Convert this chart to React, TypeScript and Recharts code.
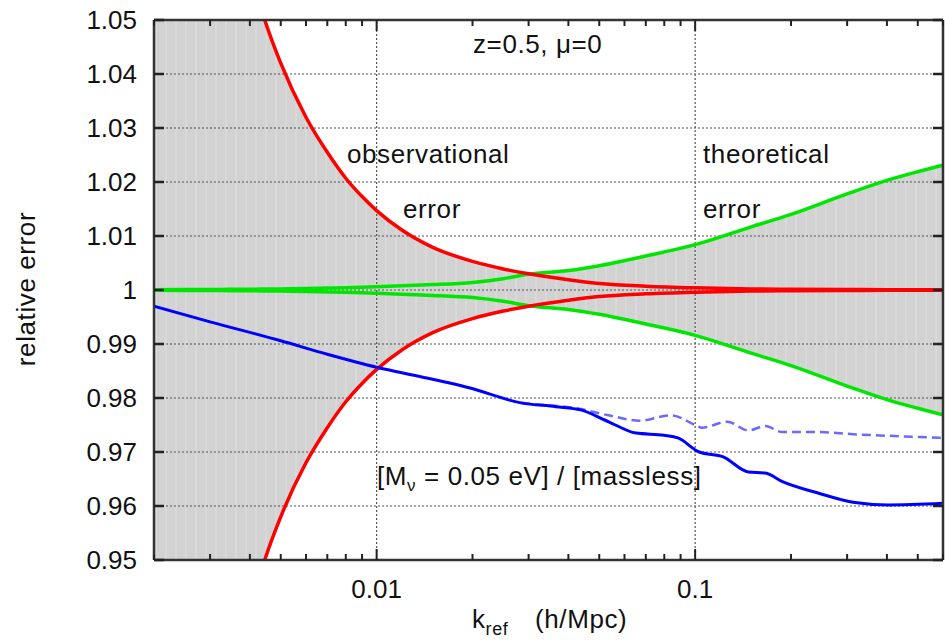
import React from 'react'
import { ComposedChart, Line, Area, XAxis, YAxis, ReferenceLine } from 'recharts'

// k grid for the error envelopes (h/Mpc)
const kGrid = [0.002, 0.0025, 0.003, 0.0035, 0.004, 0.0044, 0.005, 0.006, 0.007, 0.008, 0.009, 0.01, 0.012, 0.015, 0.02, 0.025, 0.03, 0.04, 0.05, 0.07, 0.1, 0.15, 0.2, 0.3, 0.4, 0.5, 0.6]
// observational error (half width of the red envelope)
const obsErr = [0.17, 0.12, 0.092, 0.074, 0.06, 0.051, 0.042, 0.032, 0.0255, 0.0207, 0.0173, 0.0147, 0.0111, 0.0079, 0.0053, 0.0039, 0.003, 0.0019, 0.0012, 0.0007, 0.0004, 0.0002, 0.00015, 0.0001, 0.00005, 0.00004, 0.00003]
// theoretical error (half width of the green envelope)
const theoErr = [0.00005, 0.00007, 0.0001, 0.00012, 0.00015, 0.00017, 0.0002, 0.00027, 0.00035, 0.00042, 0.0005, 0.0006, 0.0008, 0.001, 0.0014, 0.0021, 0.0029, 0.0036, 0.0045, 0.0063, 0.0084, 0.0117, 0.014, 0.0178, 0.0203, 0.0219, 0.0231]

// [M_nu = 0.05 eV] / [massless], solid
const ratioK = [0.002, 0.003, 0.005, 0.007, 0.01, 0.0117, 0.0195, 0.0284, 0.0365, 0.0437, 0.0535, 0.0652, 0.0798, 0.0883, 0.103, 0.1225, 0.147, 0.166, 0.188, 0.243, 0.313, 0.404, 0.6]
const ratioVal = [0.997, 0.9941, 0.9906, 0.9881, 0.9857, 0.9848, 0.9819, 0.9791, 0.9784, 0.9778, 0.9756, 0.9735, 0.9731, 0.9726, 0.97, 0.9691, 0.9663, 0.9661, 0.9645, 0.9624, 0.9607, 0.9602, 0.9605]
// dashed variant
const dashK = [0.0284, 0.0322, 0.0415, 0.0535, 0.067, 0.084, 0.1, 0.105, 0.126, 0.147, 0.166, 0.188, 0.243, 0.313, 0.404, 0.6]
const dashVal = [0.9791, 0.9788, 0.9782, 0.9768, 0.9758, 0.9768, 0.975, 0.9745, 0.9756, 0.974, 0.9748, 0.9737, 0.9737, 0.9733, 0.973, 0.9726]

const xTicks = [0.002, 0.003, 0.004, 0.005, 0.006, 0.007, 0.008, 0.009, 0.01, 0.02, 0.03, 0.04, 0.05, 0.06, 0.07, 0.08, 0.09, 0.1, 0.2, 0.3, 0.4, 0.5, 0.6]
const xMajor = [0.01, 0.1]
const xMajorLabels = ['0.01', '0.1']
const yTicks = [0.95, 0.96, 0.97, 0.98, 0.99, 1, 1.01, 1.02, 1.03, 1.04, 1.05]
const yLabels = ['0.95', '0.96', '0.97', '0.98', '0.99', '1', '1.01', '1.02', '1.03', '1.04', '1.05']
const yGrid = [0.96, 0.97, 0.98, 0.99, 1, 1.01, 1.02, 1.03, 1.04]

const W = 945
const H = 644
const M = { top: 20, right: 2, bottom: 0, left: 0 }
const PLOT_TOP = M.top
const PLOT_RIGHT = W - M.right
const FONT = '"Liberation Sans", Arial, Helvetica, sans-serif'
const TXT = '#111'
const TICK = '#222'

const envData = kGrid.map((k, i) => {
  const tot = Math.max(obsErr[i], theoErr[i])
  return {
    k,
    obsHi: 1 + obsErr[i],
    obsLo: 1 - obsErr[i],
    theoHi: 1 + theoErr[i],
    theoLo: 1 - theoErr[i],
    band: [1 - tot, 1 + tot],
  }
})
const ratioData = ratioK.map((k, i) => ({ k, v: ratioVal[i] }))
const dashData = dashK.map((k, i) => ({ k, v: dashVal[i] }))

// ticks point inwards, on both the bottom and top frame
const XTick = (props: any) => {
  const { x, y, payload } = props
  const idx = xMajor.indexOf(payload.value)
  const len = idx >= 0 ? 11 : 6
  return (
    <g>
      <line x1={x} x2={x} y1={y} y2={y - len} stroke={TICK} strokeWidth={2} />
      <line x1={x} x2={x} y1={PLOT_TOP} y2={PLOT_TOP + len} stroke={TICK} strokeWidth={2} />
      {idx >= 0 && (
        <text x={x} y={y + 38} textAnchor="middle" fontSize={26} fontFamily={FONT} fill={TXT}>
          {xMajorLabels[idx]}
        </text>
      )}
    </g>
  )
}

// left and right frame ticks
const YTick = (props: any) => {
  const { x, y, payload } = props
  const idx = yTicks.indexOf(payload.value)
  return (
    <g>
      <line x1={x} x2={x + 10} y1={y} y2={y} stroke={TICK} strokeWidth={2.5} />
      <line x1={PLOT_RIGHT - 10} x2={PLOT_RIGHT} y1={y} y2={y} stroke={TICK} strokeWidth={2.5} />
      <text x={x - 17} y={y + 9} textAnchor="end" fontSize={26} fontFamily={FONT} fill={TXT}>
        {yLabels[idx]}
      </text>
    </g>
  )
}

const Annotations = () => (
  <svg width={W} height={H} style={{ position: 'absolute', left: 0, top: 0, pointerEvents: 'none' }}>
    <defs>
      <pattern id="shade" width={10} height={10} patternUnits="userSpaceOnUse">
        <rect width={10} height={10} fill="#d2d2d2" />
        <rect x={5} width={2} height={10} fill="#d9d9d9" />
      </pattern>
    </defs>
    <g fontFamily={FONT} fontSize={26} fill={TXT} letterSpacing={0.6}>
      <text x={473} y={53}>z=0.5, μ=0</text>
      <text x={347} y={163}>observational</text>
      <text x={403} y={218}>error</text>
      <text x={703} y={163}>theoretical</text>
      <text x={703} y={218}>error</text>
      <text x={377} y={485}>
        [M<tspan fontSize={17} dy={6}>ν</tspan>
        <tspan dy={-6}> = 0.05 eV] / [massless]</tspan>
      </text>
      <text x={472} y={628}>
        k<tspan fontSize={18} dy={7}>ref</tspan>
        <tspan dy={-7} x={535}>(h/Mpc)</tspan>
      </text>
      <text transform="translate(35, 289) rotate(-90)" textAnchor="middle">relative error</text>
    </g>
  </svg>
)

export default function App() {
  return (
    <div style={{ position: 'absolute', left: 0, top: 0, width: W, height: H, background: '#fff' }}>
      <Annotations />
      <div style={{ position: 'absolute', left: 0, top: 0 }}>
        <ComposedChart width={W} height={H} data={envData} margin={M}>
          <XAxis
            dataKey="k"
            type="number"
            scale="log"
            domain={[0.002, 0.6]}
            allowDataOverflow
            ticks={xTicks}
            interval={0}
            height={84}
            tickSize={0}
            tickMargin={0}
            tickLine={false}
            axisLine={{ stroke: '#333', strokeWidth: 2.5 }}
            tick={<XTick />}
          />
          <YAxis
            type="number"
            domain={[0.95, 1.05]}
            allowDataOverflow
            ticks={yTicks}
            interval={0}
            width={154}
            tickSize={0}
            tickMargin={0}
            tickLine={false}
            axisLine={{ stroke: '#333', strokeWidth: 2.5 }}
            tick={<YTick />}
          />
          <Area
            dataKey="band"
            type="monotone"
            stroke="none"
            fill="url(#shade)"
            fillOpacity={1}
            isAnimationActive={false}
          />
          {yGrid.map((v) => (
            <ReferenceLine key={'y' + v} y={v} stroke="#555" strokeDasharray="2 2" strokeWidth={1.2} />
          ))}
          {xMajor.map((v) => (
            <ReferenceLine key={'x' + v} x={v} stroke="#555" strokeDasharray="2 2" strokeWidth={1.2} />
          ))}
          <Line dataKey="theoHi" type="monotone" stroke="#00e600" strokeWidth={3.5} dot={false} isAnimationActive={false} />
          <Line dataKey="theoLo" type="monotone" stroke="#00e600" strokeWidth={3.5} dot={false} isAnimationActive={false} />
          <Line dataKey="obsHi" type="monotone" stroke="#ff0000" strokeWidth={3.5} dot={false} isAnimationActive={false} />
          <Line dataKey="obsLo" type="monotone" stroke="#ff0000" strokeWidth={3.5} dot={false} isAnimationActive={false} />
          <Line data={dashData} dataKey="v" type="monotone" stroke="#6a6aff" strokeWidth={2.5} strokeDasharray="9 5" dot={false} isAnimationActive={false} />
          <Line data={ratioData} dataKey="v" type="monotone" stroke="#0000ff" strokeWidth={3} dot={false} isAnimationActive={false} />
          <ReferenceLine x={0.6} stroke="#333" strokeWidth={2.5} />
          <ReferenceLine y={1.05} stroke="#333" strokeWidth={2.5} />
        </ComposedChart>
      </div>
    </div>
  )
}
